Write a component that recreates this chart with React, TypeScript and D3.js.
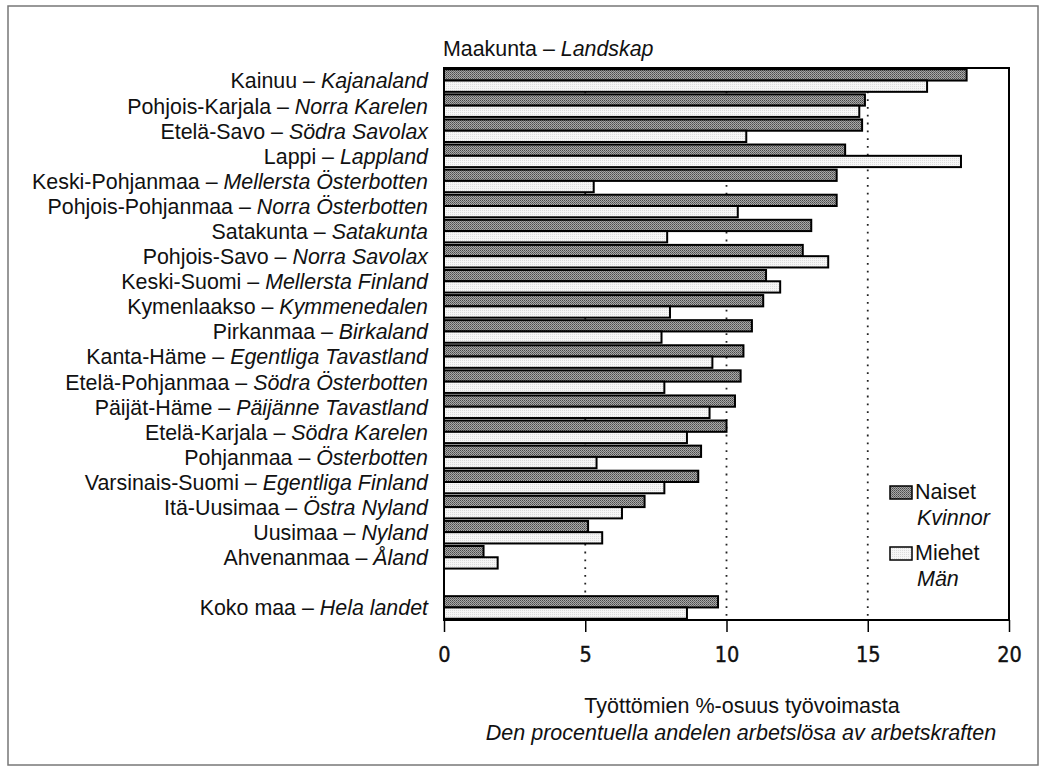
import * as d3 from "d3";
import { useEffect, useRef } from "react";

// Maakunta – Landskap (Finnish / Swedish names), top to bottom
const regionsFi = [
    "Kainuu", "Pohjois-Karjala", "Etelä-Savo", "Lappi", "Keski-Pohjanmaa",
    "Pohjois-Pohjanmaa", "Satakunta", "Pohjois-Savo", "Keski-Suomi", "Kymenlaakso",
    "Pirkanmaa", "Kanta-Häme", "Etelä-Pohjanmaa", "Päijät-Häme", "Etelä-Karjala",
    "Pohjanmaa", "Varsinais-Suomi", "Itä-Uusimaa", "Uusimaa", "Ahvenanmaa",
];
const regionsSv = [
    "Kajanaland", "Norra Karelen", "Södra Savolax", "Lappland", "Mellersta Österbotten",
    "Norra Österbotten", "Satakunta", "Norra Savolax", "Mellersta Finland", "Kymmenedalen",
    "Birkaland", "Egentliga Tavastland", "Södra Österbotten", "Päijänne Tavastland", "Södra Karelen",
    "Österbotten", "Egentliga Finland", "Östra Nyland", "Nyland", "Åland",
];
// unemployment rate, %
const women = [18.5, 14.9, 14.8, 14.2, 13.9, 13.9, 13.0, 12.7, 11.4, 11.3, 10.9, 10.6, 10.5, 10.3, 10.0, 9.1, 9.0, 7.1, 5.1, 1.4];
const men = [17.1, 14.7, 10.7, 18.3, 5.3, 10.4, 7.9, 13.6, 11.9, 8.0, 7.7, 9.5, 7.8, 9.4, 8.6, 5.4, 7.8, 6.3, 5.6, 1.9];

const totalFi = "Koko maa";
const totalSv = "Hela landet";
const totalWomen = 9.7;
const totalMen = 8.6;

const xTicks = [0, 5, 10, 15, 20];
const gridTicks = [5, 10, 15];

const FONT = "'Liberation Sans', Arial, sans-serif";
const NARROW = "'Liberation Sans Narrow', 'Arial Narrow', 'DejaVu Sans Condensed', sans-serif";

export default function App() {
    const svgRef = useRef<SVGSVGElement | null>(null);

    useEffect(() => {
        if (!svgRef.current) return;
        document.body.style.margin = "0";

        const totalW = 1045;
        const totalH = 767;
        const svg = d3.select(svgRef.current);
        svg.attr("width", totalW).attr("height", totalH);
        svg.selectAll("*").remove();

        const left = 444, right = 1009, top = 68, bottom = 620;

        const defs = svg.append("defs");
        const pw = defs.append("pattern").attr("id", "patW")
            .attr("width", 2).attr("height", 2).attr("patternUnits", "userSpaceOnUse");
        pw.append("rect").attr("width", 2).attr("height", 2).attr("fill", "#a8a8a8");
        pw.append("rect").attr("width", 1).attr("height", 1).attr("fill", "#4a4a4a");
        pw.append("rect").attr("x", 1).attr("y", 1).attr("width", 1).attr("height", 1).attr("fill", "#6a6a6a");

        const pm = defs.append("pattern").attr("id", "patM")
            .attr("width", 2).attr("height", 2).attr("patternUnits", "userSpaceOnUse");
        pm.append("rect").attr("width", 2).attr("height", 2).attr("fill", "#f6f6f6");
        pm.append("rect").attr("width", 1).attr("height", 1).attr("fill", "#dcdcdc");

        // outer frame
        svg.append("rect")
            .attr("x", 8).attr("y", 6).attr("width", 1030).attr("height", 759)
            .attr("fill", "none").attr("stroke", "#777").attr("stroke-width", 1.5);

        type Row = { key: string; fi: string; sv: string; w: number; m: number };
        const rows: Row[] = regionsFi.map((fi, i) => ({ key: fi, fi, sv: regionsSv[i], w: women[i], m: men[i] }));
        const totalRow: Row = { key: totalFi, fi: totalFi, sv: totalSv, w: totalWomen, m: totalMen };
        const domain = [...rows.map((r) => r.key), "_gap", totalRow.key];
        const all = [...rows, totalRow];

        const x = d3.scaleLinear().domain([0, 20]).range([left, right]);
        const y = d3.scaleBand<string>().domain(domain).range([top, bottom])
            .paddingInner(0.1).paddingOuter(0.05);
        const bw = y.bandwidth() / 2;

        // dotted gridlines
        svg.append("g").selectAll("line").data(gridTicks).join("line")
            .attr("x1", (d) => x(d)).attr("x2", (d) => x(d))
            .attr("y1", top).attr("y2", bottom)
            .attr("stroke", "#222").attr("stroke-width", 1.8)
            .attr("stroke-dasharray", "1.8,6");

        const bars = svg.append("g").attr("stroke", "#000").attr("stroke-width", 2);
        bars.selectAll("rect.w").data(all).join("rect").attr("class", "w")
            .attr("x", x(0)).attr("y", (d) => y(d.key)!)
            .attr("width", (d) => x(d.w) - x(0)).attr("height", bw)
            .attr("fill", "url(#patW)");
        bars.selectAll("rect.m").data(all).join("rect").attr("class", "m")
            .attr("x", x(0)).attr("y", (d) => y(d.key)! + bw)
            .attr("width", (d) => x(d.m) - x(0)).attr("height", bw)
            .attr("fill", "url(#patM)");

        // plot frame
        svg.append("rect")
            .attr("x", left).attr("y", top).attr("width", right - left).attr("height", bottom - top)
            .attr("fill", "none").attr("stroke", "#000").attr("stroke-width", 2);

        // category labels
        const labels = svg.append("g").attr("font-family", FONT).attr("font-size", 21.4)
            .attr("text-anchor", "end").attr("fill", "#111");
        all.forEach((r) => {
            const t = labels.append("text")
                .attr("x", 428)
                .attr("y", y(r.key)! + y.bandwidth() / 2)
                .attr("dy", "0.37em");
            t.append("tspan").text(`${r.fi} – `);
            t.append("tspan").attr("font-style", "italic").text(r.sv);
        });

        svg.append("text")
            .attr("x", 443).attr("y", 56)
            .attr("font-family", FONT).attr("font-size", 21.4).attr("fill", "#111")
            .call((t) => {
                t.append("tspan").text("Maakunta – ");
                t.append("tspan").attr("font-style", "italic").text("Landskap");
            });

        // x axis
        const axis = svg.append("g")
            .attr("transform", `translate(0,${bottom})`)
            .call(d3.axisBottom(x).tickValues(xTicks).tickSize(12).tickPadding(15).tickFormat(d3.format("d")));
        axis.select(".domain").remove();
        axis.selectAll(".tick line").attr("stroke", "#000").attr("stroke-width", 1.5);
        axis.selectAll(".tick text").attr("font-family", NARROW).attr("font-size", 21.5)
            .attr("fill", "#111").attr("stroke", "#111").attr("stroke-width", 0.4);

        svg.append("text")
            .attr("x", 742).attr("y", 713).attr("text-anchor", "middle")
            .attr("font-family", FONT).attr("font-size", 21.5).attr("fill", "#111")
            .text("Työttömien %-osuus työvoimasta");
        svg.append("text")
            .attr("x", 741).attr("y", 740).attr("text-anchor", "middle")
            .attr("font-family", FONT).attr("font-size", 21.5).attr("font-style", "italic").attr("fill", "#111")
            .text("Den procentuella andelen arbetslösa av arbetskraften");

        // legend
        const legend = svg.append("g").attr("font-family", FONT).attr("font-size", 21.5).attr("fill", "#111");
        const items = [
            { fi: "Naiset", sv: "Kvinnor", fill: "url(#patW)", y: 486 },
            { fi: "Miehet", sv: "Män", fill: "url(#patM)", y: 547 },
        ];
        items.forEach((it) => {
            legend.append("rect")
                .attr("x", 890).attr("y", it.y).attr("width", 22).attr("height", 13)
                .attr("fill", it.fill).attr("stroke", "#000").attr("stroke-width", 1.5);
            legend.append("text").attr("x", 915).attr("y", it.y + 13).text(it.fi);
            legend.append("text").attr("x", 917).attr("y", it.y + 39).attr("font-style", "italic").text(it.sv);
        });
    }, []);

    return <svg ref={svgRef} style={{ display: "block" }} />;
}
